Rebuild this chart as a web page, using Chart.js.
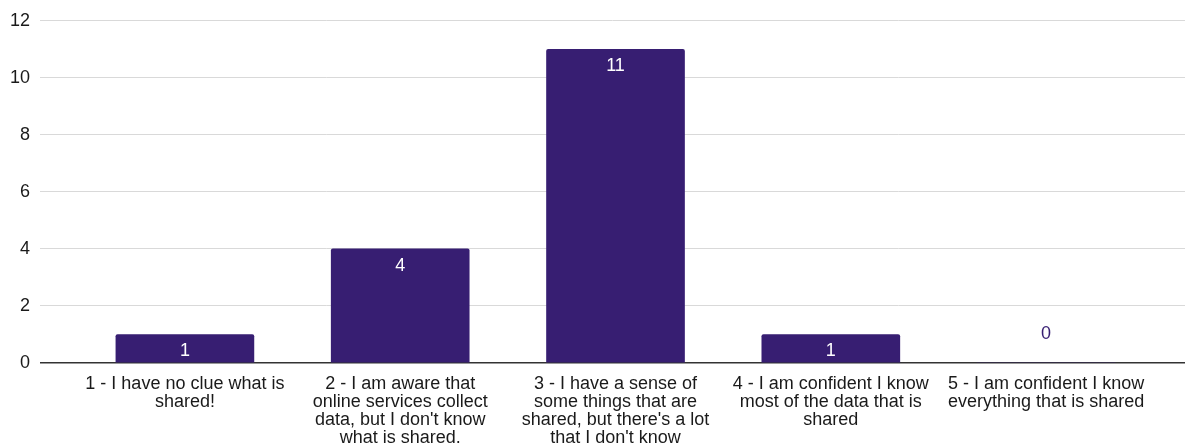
<!DOCTYPE html>
<html>
<head>
<meta charset="utf-8">
<script src="https://cdn.jsdelivr.net/npm/chart.js@4"></script>
<style>
  html, body { margin: 0; padding: 0; background: #fff; }
  #wrap { width: 1185px; height: 447px; }
</style>
</head>
<body>
<div id="wrap"><canvas id="awarenessChart"></canvas></div>
<script>
// answers, wrapped the way the original axis wraps them
const categories = [
  ["1 - I have no clue what is", "shared!"],
  ["2 - I am aware that", "online services collect", "data, but I don't know", "what is shared."],
  ["3 - I have a sense of", "some things that are", "shared, but there's a lot", "that I don't know"],
  ["4 - I am confident I know", "most of the data that is", "shared"],
  ["5 - I am confident I know", "everything that is shared"]
];
const counts = [1, 4, 11, 1, 0];
const yTicks = [0, 2, 4, 6, 8, 10, 12];

const barColor = '#371e72';
const fontFamily = '"Liberation Sans", Arial, sans-serif';

// value labels: white inside the bar, bar colour above the axis when empty
const valueLabels = {
  id: 'valueLabels',
  afterDatasetsDraw(chart) {
    const ctx = chart.ctx;
    const meta = chart.getDatasetMeta(0);
    ctx.save();
    ctx.font = '18px ' + fontFamily;
    ctx.textAlign = 'center';
    ctx.textBaseline = 'middle';
    meta.data.forEach((bar, i) => {
      const v = counts[i];
      if (v > 0) {
        ctx.fillStyle = '#ffffff';
        ctx.fillText(String(v), bar.x, bar.y + 17);
      } else {
        ctx.fillStyle = barColor;
        ctx.fillText(String(v), bar.x, bar.y - 29);
      }
    });
    ctx.restore();
  }
};

new Chart(document.getElementById('awarenessChart'), {
  type: 'bar',
  data: {
    datasets: [{
      data: counts.map((v, i) => ({ x: i + 1, y: v })),
      backgroundColor: barColor,
      borderRadius: { topLeft: 2, topRight: 2 },
      borderSkipped: 'bottom',
      barThickness: 138
    }]
  },
  options: {
    responsive: true,
    maintainAspectRatio: false,
    animation: false,
    layout: { padding: { top: 18, right: 0, left: 0, bottom: 0 } },
    plugins: {
      legend: { display: false },
      tooltip: { enabled: false }
    },
    scales: {
      x: {
        type: 'linear',
        min: 0.327,
        max: 5.645,
        offset: false,
        grid: { display: false },
        border: { display: false },
        afterFit: scale => { scale.height = 84; },
        ticks: {
          stepSize: 1,
          includeBounds: false,
          autoSkip: false,
          maxRotation: 0,
          padding: 4,
          color: '#1a1a1a',
          font: { family: fontFamily, size: 18, lineHeight: 1.0 },
          callback: v => categories[v - 1] || ''
        }
      },
      y: {
        min: 0,
        max: 12,
        afterFit: scale => { scale.width = 40; },
        afterBuildTicks: scale => { scale.ticks = yTicks.map(v => ({ value: v })); },
        grid: {
          drawTicks: false,
          color: c => (c.tick && c.tick.value === 0 ? '#333333' : '#d9d9d9'),
          lineWidth: c => (c.tick && c.tick.value === 0 ? 1.5 : 1)
        },
        border: { display: false },
        ticks: {
          padding: 10,
          color: '#1a1a1a',
          font: { family: fontFamily, size: 18 }
        }
      }
    }
  },
  plugins: [valueLabels]
});
</script>
</body>
</html>
